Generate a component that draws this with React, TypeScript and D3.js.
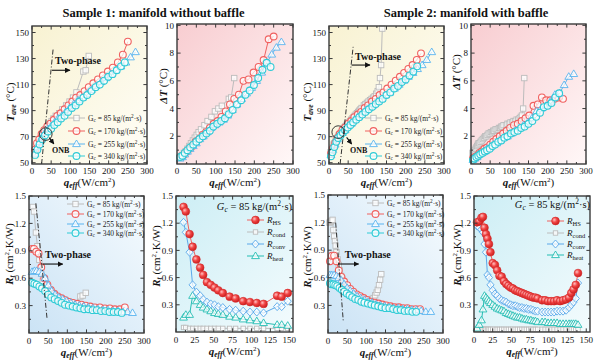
import React from "react";
import * as d3 from "d3";

// ---------------- DATA ----------------
// Sample 1 (manifold without baffle)
const s1q85 = [10, 13, 18, 22, 27, 32, 36, 41, 46, 51, 56, 62, 71, 79, 89, 98, 107, 116, 134, 140, 148];
const s1T85 = [58, 61, 65, 68, 71, 74, 76, 78, 80, 82, 84, 86, 88, 91, 94, 97, 100, 104, 120, 121, 132];
const s1dT85 = [0.5, 0.6, 0.8, 0.9, 1.1, 1.3, 1.5, 1.7, 1.9, 2.1, 2.3, 2.5, 2.8, 3.1, 3.4, 3.8, 4.0, 4.2, 4.7, 4.8, 6.2];
const s1R85 = [1.38, 1.33, 1.10, 0.95, 0.80, 0.65, 0.57, 0.50, 0.46, 0.43, 0.41, 0.39, 0.37, 0.35, 0.33, 0.32, 0.31, 0.31, 0.40, 0.41, 0.44];
const s1RHS = [1.38, 1.33, 1.08, 0.94, 0.80, 0.71, 0.63, 0.55, 0.52, 0.49, 0.46, 0.43, 0.39, 0.37, 0.34, 0.33, 0.32, 0.31, 0.40, 0.39, 0.43];
const s1Rcond = [0.05, 0.05, 0.04, 0.04, 0.04, 0.04, 0.04, 0.04, 0.04, 0.04, 0.04, 0.04, 0.04, 0.04, 0.04, 0.04, 0.04, 0.04, 0.04, 0.04, 0.04];
const s1Rconv = [1.21, 1.10, 0.88, 0.52, 0.44, 0.40, 0.36, 0.33, 0.31, 0.30, 0.28, 0.27, 0.25, 0.24, 0.23, 0.22, 0.22, 0.21, 0.28, 0.28, 0.34];
const s1Rheat = [0.16, 0.19, 0.19, 0.40, 0.34, 0.30, 0.27, 0.25, 0.23, 0.21, 0.20, 0.19, 0.17, 0.16, 0.14, 0.13, 0.12, 0.10, 0.08, 0.08, 0.07];

const s1q170 = [8, 13, 19, 25, 32, 40, 48, 57, 66, 75, 85, 95, 105, 115, 126, 137, 148, 160, 172, 185, 198, 211, 224, 237, 250];
const s1T170 = [60, 65, 68, 72, 75, 78, 80, 83, 86, 88, 91, 94, 97, 100, 102, 105, 108, 111, 114, 117, 120, 123, 127, 133, 143];
const s1dT170 = [0.5, 0.6, 0.7, 0.9, 1.1, 1.3, 1.6, 1.8, 2.1, 2.3, 2.6, 2.9, 3.1, 3.4, 3.8, 4.3, 4.7, 5.0, 6.0, 6.1, 6.6, 7.0, 7.5, 9.0, 9.2];
const s1R170 = [0.92, 0.92, 0.89, 0.87, 0.72, 0.60, 0.53, 0.47, 0.43, 0.40, 0.38, 0.36, 0.34, 0.33, 0.32, 0.31, 0.30, 0.29, 0.28, 0.28, 0.27, 0.27, 0.26, 0.26, 0.28];

const s1q255 = [8, 14, 20, 27, 34, 42, 50, 59, 68, 78, 88, 98, 109, 120, 131, 143, 155, 167, 180, 193, 206, 219, 232, 245, 257, 270];
const s1T255 = [57, 62, 66, 70, 73, 76, 78, 81, 84, 86, 89, 92, 95, 98, 100, 103, 106, 109, 112, 115, 118, 121, 124, 127, 131, 135];
const s1dT255 = [0.4, 0.5, 0.7, 0.9, 1.1, 1.3, 1.5, 1.8, 2.0, 2.3, 2.6, 2.8, 3.0, 3.2, 3.5, 3.9, 4.3, 4.7, 5.1, 5.5, 6.0, 6.6, 7.3, 7.9, 8.4, 8.8];
const s1R255 = [0.67, 0.68, 0.68, 0.67, 0.65, 0.60, 0.52, 0.46, 0.42, 0.39, 0.37, 0.35, 0.33, 0.31, 0.30, 0.29, 0.28, 0.27, 0.26, 0.25, 0.25, 0.24, 0.24, 0.23, 0.23, 0.22];

const s1q340 = [8, 14, 20, 27, 34, 42, 50, 58, 67, 76, 85, 94, 104, 114, 124, 134, 144, 155, 166, 177, 188, 199, 210, 221, 232, 242];
const s1T340 = [56, 60, 64, 68, 71, 74, 76, 79, 81, 84, 86, 89, 92, 94, 97, 100, 102, 105, 108, 110, 113, 116, 118, 121, 124, 127];
const s1dT340 = [0.5, 0.6, 0.8, 1.0, 1.2, 1.4, 1.6, 1.8, 2.0, 2.2, 2.4, 2.7, 2.9, 3.1, 3.3, 3.6, 3.9, 4.3, 4.6, 5.0, 5.3, 5.7, 6.2, 6.8, 7.3, 7.0];
const s1R340 = [0.55, 0.54, 0.53, 0.51, 0.49, 0.46, 0.42, 0.39, 0.37, 0.35, 0.33, 0.31, 0.30, 0.29, 0.28, 0.27, 0.26, 0.26, 0.25, 0.25, 0.24, 0.24, 0.23, 0.23, 0.23, 0.22];

// Sample 2 (manifold with baffle)
const s2q85 = [4, 7, 10, 12, 14, 16, 18, 20, 22, 25, 28, 31, 34, 37, 40, 43, 46, 49, 52, 55, 58, 61, 64, 67, 70, 73, 76, 79, 82, 85, 91, 95, 99, 103, 107, 111, 115, 119, 123, 127, 130, 133, 136, 139];
const s2T85 = [58, 60, 62, 64, 65, 66, 67, 68, 69, 71, 72, 73, 75, 76, 77, 78, 79, 80, 81, 82, 83, 84, 85, 86, 87, 88, 89, 90, 91, 92, 94, 95, 96, 97, 98, 99, 100, 101, 103, 105, 108, 115, 125, 153];
const s2dT85 = [0.8, 0.9, 1.0, 1.1, 1.2, 1.3, 1.4, 1.5, 1.5, 1.6, 1.7, 1.8, 1.9, 2.0, 2.0, 2.1, 2.2, 2.2, 2.3, 2.3, 2.4, 2.4, 2.5, 2.5, 2.5, 2.6, 2.6, 2.7, 2.7, 2.8, 2.8, 2.9, 2.9, 3.0, 3.0, 3.1, 3.1, 3.2, 3.2, 3.3, 3.4, 3.5, 4.0, 6.2];
const s2R85 = [1.20, 1.21, 1.22, 1.23, 1.12, 1.05, 1.00, 0.95, 0.88, 0.80, 0.74, 0.68, 0.62, 0.59, 0.55, 0.52, 0.50, 0.48, 0.46, 0.45, 0.44, 0.43, 0.42, 0.41, 0.40, 0.39, 0.38, 0.37, 0.37, 0.36, 0.35, 0.35, 0.35, 0.35, 0.35, 0.36, 0.37, 0.38, 0.41, 0.44, 0.47, 0.52, 0.58, 0.64];
const s2RHS = [1.21, 1.22, 1.26, 1.27, 1.15, 1.08, 1.03, 0.97, 0.88, 0.76, 0.74, 0.68, 0.62, 0.61, 0.56, 0.53, 0.51, 0.49, 0.48, 0.46, 0.45, 0.44, 0.43, 0.42, 0.41, 0.40, 0.39, 0.38, 0.38, 0.37, 0.35, 0.35, 0.34, 0.34, 0.34, 0.35, 0.34, 0.35, 0.36, 0.38, 0.43, 0.47, 0.52, 0.65];
const s2Rcond = [0.03, 0.03, 0.03, 0.03, 0.03, 0.03, 0.03, 0.03, 0.03, 0.03, 0.03, 0.03, 0.03, 0.03, 0.03, 0.03, 0.03, 0.03, 0.03, 0.03, 0.03, 0.03, 0.03, 0.03, 0.03, 0.03, 0.03, 0.03, 0.03, 0.03, 0.03, 0.03, 0.03, 0.03, 0.03, 0.03, 0.03, 0.03, 0.03, 0.03, 0.03, 0.03, 0.03, 0.03];
const s2Rconv = [1.17, 1.15, 1.13, 1.10, 0.97, 0.88, 0.63, 0.60, 0.52, 0.46, 0.42, 0.40, 0.37, 0.35, 0.34, 0.33, 0.31, 0.30, 0.29, 0.29, 0.28, 0.27, 0.27, 0.26, 0.26, 0.25, 0.25, 0.24, 0.23, 0.23, 0.22, 0.22, 0.22, 0.22, 0.22, 0.23, 0.23, 0.23, 0.24, 0.27, 0.30, 0.33, 0.37, 0.54];
const s2Rheat = [0.04, 0.08, 0.13, 0.25, 0.40, 0.38, 0.36, 0.34, 0.32, 0.30, 0.28, 0.26, 0.25, 0.24, 0.23, 0.21, 0.20, 0.19, 0.18, 0.17, 0.16, 0.16, 0.15, 0.14, 0.14, 0.13, 0.13, 0.12, 0.12, 0.11, 0.11, 0.11, 0.10, 0.10, 0.10, 0.10, 0.09, 0.09, 0.09, 0.09, 0.09, 0.09, 0.09, 0.08];

const s2q170 = [5, 10, 16, 22, 28, 35, 42, 50, 58, 66, 75, 84, 93, 102, 112, 122, 132, 142, 152, 163, 174, 185, 196, 207, 218, 229, 240];
const s2T170 = [57, 61, 65, 69, 72, 75, 77, 80, 82, 85, 87, 89, 92, 94, 97, 99, 102, 104, 107, 110, 113, 116, 119, 122, 125, 129, 134];
const s2dT170 = [0.4, 0.5, 0.6, 0.8, 0.9, 1.1, 1.2, 1.4, 1.6, 1.8, 2.0, 2.2, 2.4, 2.6, 2.8, 2.9, 3.1, 3.3, 3.5, 4.2, 4.3, 4.8, 4.6, 4.6, 4.7, 4.8, 4.7];
const s2R170 = [0.78, 0.84, 0.84, 0.78, 0.68, 0.61, 0.56, 0.52, 0.48, 0.45, 0.42, 0.40, 0.38, 0.36, 0.34, 0.33, 0.32, 0.31, 0.30, 0.29, 0.28, 0.28, 0.27, 0.27, 0.26, 0.26, 0.26];

const s2q255 = [5, 10, 16, 22, 28, 35, 42, 50, 58, 67, 76, 85, 95, 105, 115, 126, 137, 148, 159, 171, 183, 195, 207, 219, 231, 243, 255, 268];
const s2T255 = [56, 60, 64, 68, 71, 73, 75, 78, 80, 83, 85, 87, 90, 92, 94, 97, 99, 102, 104, 107, 110, 113, 116, 119, 122, 125, 129, 135];
const s2dT255 = [0.3, 0.4, 0.5, 0.7, 0.8, 0.9, 1.1, 1.2, 1.4, 1.5, 1.7, 1.9, 2.0, 2.2, 2.4, 2.6, 2.8, 3.0, 3.3, 3.8, 4.0, 4.2, 4.5, 5.0, 5.1, 5.7, 6.3, 6.5];
const s2R255 = [0.63, 0.63, 0.63, 0.62, 0.60, 0.57, 0.53, 0.49, 0.46, 0.43, 0.40, 0.38, 0.36, 0.34, 0.33, 0.31, 0.30, 0.29, 0.28, 0.27, 0.27, 0.26, 0.26, 0.25, 0.25, 0.24, 0.23, 0.23];

const s2q340 = [5, 9, 14, 19, 24, 30, 36, 42, 49, 56, 63, 71, 79, 87, 95, 104, 113, 122, 131, 140, 150, 160, 170, 180, 190, 200, 210, 220, 230];
const s2T340 = [55, 58, 62, 66, 69, 71, 73, 75, 77, 79, 81, 83, 85, 87, 89, 91, 93, 95, 97, 99, 102, 104, 107, 109, 112, 114, 117, 120, 124];
const s2dT340 = [0.3, 0.4, 0.5, 0.6, 0.7, 0.8, 0.9, 1.0, 1.1, 1.3, 1.4, 1.6, 1.7, 1.9, 2.0, 2.2, 2.3, 2.4, 2.6, 2.7, 2.9, 3.1, 3.4, 3.7, 4.1, 4.2, 4.4, 4.8, 5.1];
const s2R340 = [0.54, 0.53, 0.53, 0.52, 0.51, 0.49, 0.47, 0.45, 0.43, 0.41, 0.39, 0.37, 0.36, 0.34, 0.33, 0.32, 0.31, 0.30, 0.29, 0.28, 0.27, 0.27, 0.26, 0.25, 0.25, 0.24, 0.24, 0.23, 0.23];

// tick values
const xTicks300 = [0, 50, 100, 150, 200, 250, 300];
const xTicks150 = [0, 25, 50, 75, 100, 125, 150];
const yTicksT = [50, 70, 90, 110, 130, 150];
const yTicksDT = [2, 4, 6, 8, 10];
const yTicksR = [0.3, 0.6, 0.9, 1.2, 1.5];
const flowLabels = ["85", "170", "255", "340"];

// ---------------- STYLE ----------------
const FONT = "'Liberation Serif', 'Times New Roman', serif";
const C_GRAY = "#bcbcbc";
const C_RED = "#f0605f";
const C_BLUE = "#5ab4ef";
const C_CYAN = "#2fcbd6";
const C_CONV = "#5aa8ea";
const C_HEAT = "#25bdb3";
const FRAME = "#3a3a3a";

type Box = { x: number; y: number; w: number; h: number };
type Series = { q: number[]; v: number[]; color: string; shape: string };

function Marker({ shape, x, y, color }: { shape: string; x: number; y: number; color: string }) {
  const sw = 0.9;
  if (shape === "square")
    return <rect x={x - 2.7} y={y - 2.7} width={5.4} height={5.4} fill="#fff" fillOpacity={0.75} stroke={color} strokeWidth={sw} />;
  if (shape === "smallsquare")
    return <rect x={x - 2.2} y={y - 2.2} width={4.4} height={4.4} fill="#fff" fillOpacity={0.8} stroke={color} strokeWidth={sw} />;
  if (shape === "circle")
    return <circle cx={x} cy={y} r={3.4} fill="#fff" fillOpacity={0.7} stroke={color} strokeWidth={sw + 0.2} />;
  if (shape === "triangle")
    return (
      <path d={`M${x},${y - 4}L${x + 3.9},${y + 2.6}L${x - 3.9},${y + 2.6}Z`} fill="#fff" fillOpacity={0.7} stroke={color} strokeWidth={sw} />
    );
  if (shape === "diamond")
    return (
      <path d={`M${x},${y - 4}L${x + 3.6},${y}L${x},${y + 4}L${x - 3.6},${y}Z`} fill="#fff" fillOpacity={0.7} stroke={color} strokeWidth={sw} />
    );
  if (shape === "ball")
    return <circle cx={x} cy={y} r={3.9} fill="url(#ball)" stroke="#d42a2a" strokeWidth={0.6} />;
  return null;
}

function minorTicks(ticks: number[], dom: number[]) {
  const step = ticks[1] - ticks[0];
  const out: number[] = [];
  for (let v = ticks[0] - step / 2; v <= dom[1] + 1e-9; v += step) {
    if (v >= dom[0] - 1e-9) out.push(v);
  }
  return out;
}

function Panel(props: {
  box: Box;
  xDom: number[];
  yDom: number[];
  xTicks: number[];
  yTicks: number[];
  yFmt: (v: number) => string;
  bg: string;
  series: Series[];
  tickDy: number;
  titleDy: number;
  extra?: (x: any, y: any) => React.ReactNode;
}) {
  const { box, xDom, yDom, xTicks, yTicks, yFmt, bg, series, tickDy, titleDy, extra } = props;
  const x = d3.scaleLinear().domain(xDom).range([box.x, box.x + box.w]);
  const y = d3.scaleLinear().domain(yDom).range([box.y + box.h, box.y]);
  const L = 3.6;
  const l = 2;
  const x0 = box.x, x1 = box.x + box.w, y0 = box.y, y1 = box.y + box.h;
  const xMin = minorTicks(xTicks, xDom);
  const yMin = minorTicks(yTicks, yDom);
  const ticks: React.ReactNode[] = [];
  xTicks.forEach((t, i) => {
    const px = x(t);
    ticks.push(<line key={"xb" + i} x1={px} x2={px} y1={y1} y2={y1 - L} />);
    ticks.push(<line key={"xt" + i} x1={px} x2={px} y1={y0} y2={y0 + L} />);
  });
  xMin.forEach((t, i) => {
    const px = x(t);
    ticks.push(<line key={"xbm" + i} x1={px} x2={px} y1={y1} y2={y1 - l} />);
    ticks.push(<line key={"xtm" + i} x1={px} x2={px} y1={y0} y2={y0 + l} />);
  });
  yTicks.forEach((t, i) => {
    const py = y(t);
    ticks.push(<line key={"yl" + i} x1={x0} x2={x0 + L} y1={py} y2={py} />);
    ticks.push(<line key={"yr" + i} x1={x1} x2={x1 - L} y1={py} y2={py} />);
  });
  yMin.forEach((t, i) => {
    const py = y(t);
    ticks.push(<line key={"ylm" + i} x1={x0} x2={x0 + l} y1={py} y2={py} />);
    ticks.push(<line key={"yrm" + i} x1={x1} x2={x1 - l} y1={py} y2={py} />);
  });
  const line = d3.line<number>();
  return (
    <g>
      <rect x={x0} y={y0} width={box.w} height={box.h} fill={`url(#${bg})`} />
      {series.map((s, si) => {
        const pts: [number, number][] = s.q.map((q, i) => [x(q), y(s.v[i])]);
        return (
          <g key={si}>
            <path d={line(pts) || ""} fill="none" stroke={s.color} strokeWidth={1} />
            {pts.map((p, i) => (
              <Marker key={i} shape={s.shape} x={p[0]} y={p[1]} color={s.color} />
            ))}
          </g>
        );
      })}
      {extra ? extra(x, y) : null}
      <g stroke={FRAME} strokeWidth={1}>{ticks}</g>
      <rect x={x0} y={y0} width={box.w} height={box.h} fill="none" stroke={FRAME} strokeWidth={1.4} />
      <g fontFamily={FONT} fontSize={9} fill="#111">
        {xTicks.map((t, i) => (
          <text key={i} x={x(t)} y={y1 + tickDy} textAnchor="middle">
            {t}
          </text>
        ))}
        {yTicks.map((t, i) => (
          <text key={i} x={x0 - 3} y={y(t) + 3.2} textAnchor="end">
            {yFmt(t)}
          </text>
        ))}
      </g>
      <text x={(x0 + x1) / 2} y={y1 + titleDy} textAnchor="middle" fontFamily={FONT} fontSize={11} fill="#111">
        <tspan fontWeight="bold" fontStyle="italic">q</tspan>
        <tspan fontWeight="bold" fontStyle="italic" fontSize={7.5} dy={2}>eff</tspan>
        <tspan dy={-2}>(W/cm</tspan>
        <tspan fontSize={7} dy={-4}>2</tspan>
        <tspan dy={4}>)</tspan>
      </text>
    </g>
  );
}

function YLabel({ x, y, kind }: { x: number; y: number; kind: string }) {
  let content: React.ReactNode = null;
  if (kind === "T")
    content = (
      <>
        <tspan fontWeight="bold" fontStyle="italic">T</tspan>
        <tspan fontWeight="bold" fontStyle="italic" fontSize={7.5} dy={2}>ave</tspan>
        <tspan dy={-2}> (°C)</tspan>
      </>
    );
  else if (kind === "dT")
    content = (
      <>
        <tspan fontWeight="bold" fontStyle="italic">ΔT</tspan>
        <tspan> (°C)</tspan>
      </>
    );
  else
    content = (
      <>
        <tspan fontWeight="bold" fontStyle="italic">R</tspan>
        <tspan fontWeight="bold" fontStyle="italic" fontSize={7.5} dy={2}>t</tspan>
        <tspan dy={-2}> (cm</tspan>
        <tspan fontSize={7} dy={-4}>2</tspan>
        <tspan dy={4}>·K/W)</tspan>
      </>
    );
  return (
    <text transform={`translate(${x},${y}) rotate(-90)`} textAnchor="middle" fontFamily={FONT} fontSize={11} fill="#111">
      {content}
    </text>
  );
}

function FlowLegend({ x, ys, fs }: { x: number; ys: number[]; fs: number }) {
  const shapes = ["square", "circle", "triangle", "circle"];
  const colors = [C_GRAY, C_RED, C_BLUE, C_CYAN];
  return (
    <g>
      {flowLabels.map((lab, i) => (
        <g key={i}>
          <line x1={x} x2={x + 17} y1={ys[i]} y2={ys[i]} stroke={colors[i]} strokeWidth={1} />
          <Marker shape={shapes[i]} x={x + 8.5} y={ys[i]} color={colors[i]} />
          <text x={x + 20} y={ys[i] + fs * 0.35} fontFamily={FONT} fontSize={fs} fill="#222">
            <tspan>G</tspan>
            <tspan fontSize={fs * 0.7} dy={1.5}>c</tspan>
            <tspan dy={-1.5}>{` = ${lab} kg/(m`}</tspan>
            <tspan fontSize={fs * 0.7} dy={-3}>2</tspan>
            <tspan dy={3}>·s)</tspan>
          </text>
        </g>
      ))}
    </g>
  );
}

function ResLegend({ rightX, titleY, x, ys }: { rightX: number; titleY: number; x: number; ys: number[] }) {
  const shapes = ["ball", "smallsquare", "diamond", "triangle"];
  const colors = [C_RED, C_GRAY, C_CONV, C_HEAT];
  const subs = ["HS", "cond", "conv", "heat"];
  return (
    <g fontFamily={FONT} fill="#111">
      <text x={rightX} y={titleY} textAnchor="end" fontSize={10.5}>
        <tspan fontStyle="italic">G</tspan>
        <tspan fontStyle="italic" fontSize={7.5} dy={2}>c</tspan>
        <tspan dy={-2}> = 85 kg/(m</tspan>
        <tspan fontSize={7.5} dy={-4}>2</tspan>
        <tspan dy={4}>·s)</tspan>
      </text>
      {subs.map((s, i) => (
        <g key={i}>
          <line x1={x} x2={x + 17} y1={ys[i]} y2={ys[i]} stroke={colors[i]} strokeWidth={1} />
          <Marker shape={shapes[i]} x={x + 8.5} y={ys[i]} color={colors[i]} />
          <text x={x + 20} y={ys[i] + 3} fontSize={9}>
            <tspan fontStyle="italic">R</tspan>
            <tspan fontSize={6.5} dy={2}>{s}</tspan>
          </text>
        </g>
      ))}
    </g>
  );
}

function DashDot({ x1, y1, x2, y2 }: { x1: number; y1: number; x2: number; y2: number }) {
  return <line x1={x1} y1={y1} x2={x2} y2={y2} stroke="#333" strokeWidth={1} strokeDasharray="5,2,1,2" />;
}

function Arrow({ x1, y1, x2, y2 }: { x1: number; y1: number; x2: number; y2: number }) {
  return <line x1={x1} y1={y1} x2={x2} y2={y2} stroke="#111" strokeWidth={1.1} markerEnd="url(#arrowHead)" />;
}

function TwoPhase({ x, y }: { x: number; y: number }) {
  return (
    <text x={x} y={y} fontFamily={FONT} fontSize={10} fontWeight="bold" fill="#111">
      Two-phase
    </text>
  );
}

function OnbNote({ cx, cy, tx, ty, ax1, ay1, ax2, ay2 }: any) {
  return (
    <g>
      <circle cx={cx} cy={cy} r={6.3} fill="none" stroke="#222" strokeWidth={0.9} />
      <Arrow x1={ax1} y1={ay1} x2={ax2} y2={ay2} />
      <text x={tx} y={ty} fontFamily={FONT} fontSize={8} fontWeight="bold" fill="#111">
        ONB
      </text>
    </g>
  );
}

const BOX_A: Box = { x: 32, y: 26, w: 115, h: 138 };
const BOX_B: Box = { x: 177, y: 24, w: 116, h: 140 };
const BOX_C: Box = { x: 329, y: 26, w: 115, h: 138 };
const BOX_D: Box = { x: 471, y: 24, w: 115, h: 140 };
const BOX_E: Box = { x: 29, y: 196, w: 115, h: 137 };
const BOX_F: Box = { x: 176, y: 196, w: 117, h: 136 };
const BOX_G: Box = { x: 328, y: 195, w: 115, h: 138 };
const BOX_H: Box = { x: 474, y: 196, w: 116, h: 136 };

const fmtInt = (v: number) => String(v);
const fmt1 = (v: number) => v.toFixed(1);

export default function App() {
  const s1T: Series[] = [
    { q: s1q85, v: s1T85, color: C_GRAY, shape: "square" },
    { q: s1q170, v: s1T170, color: C_RED, shape: "circle" },
    { q: s1q255, v: s1T255, color: C_BLUE, shape: "triangle" },
    { q: s1q340, v: s1T340, color: C_CYAN, shape: "circle" },
  ];
  const s1D: Series[] = [
    { q: s1q85, v: s1dT85, color: C_GRAY, shape: "square" },
    { q: s1q170, v: s1dT170, color: C_RED, shape: "circle" },
    { q: s1q255, v: s1dT255, color: C_BLUE, shape: "triangle" },
    { q: s1q340, v: s1dT340, color: C_CYAN, shape: "circle" },
  ];
  const s1R: Series[] = [
    { q: s1q85, v: s1R85, color: C_GRAY, shape: "square" },
    { q: s1q170, v: s1R170, color: C_RED, shape: "circle" },
    { q: s1q255, v: s1R255, color: C_BLUE, shape: "triangle" },
    { q: s1q340, v: s1R340, color: C_CYAN, shape: "circle" },
  ];
  const s1Res: Series[] = [
    { q: s1q85, v: s1Rcond, color: C_GRAY, shape: "smallsquare" },
    { q: s1q85, v: s1Rheat, color: C_HEAT, shape: "triangle" },
    { q: s1q85, v: s1Rconv, color: C_CONV, shape: "diamond" },
    { q: s1q85, v: s1RHS, color: C_RED, shape: "ball" },
  ];
  const s2T: Series[] = [
    { q: s2q85, v: s2T85, color: C_GRAY, shape: "square" },
    { q: s2q170, v: s2T170, color: C_RED, shape: "circle" },
    { q: s2q255, v: s2T255, color: C_BLUE, shape: "triangle" },
    { q: s2q340, v: s2T340, color: C_CYAN, shape: "circle" },
  ];
  const s2D: Series[] = [
    { q: s2q85, v: s2dT85, color: C_GRAY, shape: "square" },
    { q: s2q170, v: s2dT170, color: C_RED, shape: "circle" },
    { q: s2q255, v: s2dT255, color: C_BLUE, shape: "triangle" },
    { q: s2q340, v: s2dT340, color: C_CYAN, shape: "circle" },
  ];
  const s2R: Series[] = [
    { q: s2q85, v: s2R85, color: C_GRAY, shape: "square" },
    { q: s2q170, v: s2R170, color: C_RED, shape: "circle" },
    { q: s2q255, v: s2R255, color: C_BLUE, shape: "triangle" },
    { q: s2q340, v: s2R340, color: C_CYAN, shape: "circle" },
  ];
  const s2Res: Series[] = [
    { q: s2q85, v: s2Rcond, color: C_GRAY, shape: "smallsquare" },
    { q: s2q85, v: s2Rheat, color: C_HEAT, shape: "triangle" },
    { q: s2q85, v: s2Rconv, color: C_CONV, shape: "diamond" },
    { q: s2q85, v: s2RHS, color: C_RED, shape: "ball" },
  ];

  return (
    <svg width={600} height={362} style={{ position: "absolute", left: 0, top: 0, display: "block", background: "#fff" }}>
      <defs>
        <linearGradient id="bgY" x1="0" y1="0" x2="1" y2="1">
          <stop offset="0" stopColor="#f8f2d2" />
          <stop offset="1" stopColor="#fffef8" />
        </linearGradient>
        <linearGradient id="bgP" x1="0" y1="0" x2="1" y2="1">
          <stop offset="0" stopColor="#f8cdd1" />
          <stop offset="1" stopColor="#fff7f7" />
        </linearGradient>
        <linearGradient id="bgB" x1="0" y1="1" x2="1" y2="0">
          <stop offset="0" stopColor="#cbe3f5" />
          <stop offset="1" stopColor="#f6fbfe" />
        </linearGradient>
        <linearGradient id="bgC" x1="0" y1="0" x2="1" y2="1">
          <stop offset="0" stopColor="#cdeef5" />
          <stop offset="1" stopColor="#f3fbfd" />
        </linearGradient>
        <radialGradient id="ball" cx="0.35" cy="0.35" r="0.7">
          <stop offset="0" stopColor="#ffc0c0" />
          <stop offset="0.45" stopColor="#f24646" />
          <stop offset="1" stopColor="#c81c1c" />
        </radialGradient>
        <marker id="arrowHead" viewBox="0 0 10 10" refX="9" refY="5" markerWidth="5" markerHeight="5" orient="auto">
          <path d="M0,0L10,5L0,10Z" fill="#111" />
        </marker>
      </defs>

      <text x={153.5} y={17} textAnchor="middle" fontFamily={FONT} fontSize={12.5} fontWeight="bold" fill="#111">
        Sample 1: manifold without baffle
      </text>
      <text x={466} y={17} textAnchor="middle" fontFamily={FONT} fontSize={12.5} fontWeight="bold" fill="#111">
        Sample 2: manifold with baffle
      </text>

      {/* A */}
      <Panel
        box={BOX_A} xDom={[0, 300]} yDom={[49, 155]} xTicks={xTicks300} yTicks={yTicksT} yFmt={fmtInt}
        bg="bgY" series={s1T} tickDy={10} titleDy={22}
        extra={(x, y) => (
          <g>
            <DashDot x1={x(25)} y1={y(49)} x2={x(55)} y2={y(137)} />
            <TwoPhase x={x(60)} y={y(126)} />
            <Arrow x1={x(52)} y1={y(121)} x2={x(99)} y2={y(121)} />
            <OnbNote cx={x(36)} cy={y(72)} tx={x(52)} ty={y(57.5)} ax1={x(45)} ay1={y(69.2)} ax2={x(57)} ay2={y(64.5)} />
          </g>
        )}
      />
      <FlowLegend x={68} ys={[118, 131, 144, 156]} fs={7.5} />
      <YLabel x={14} y={102} kind="T" />

      {/* B */}
      <Panel box={BOX_B} xDom={[0, 300]} yDom={[0, 10.1]} xTicks={xTicks300} yTicks={yTicksDT} yFmt={fmtInt}
        bg="bgP" series={s1D} tickDy={10} titleDy={22} />
      <YLabel x={167} y={86} kind="dT" />

      {/* C */}
      <Panel
        box={BOX_C} xDom={[0, 300]} yDom={[49, 155]} xTicks={xTicks300} yTicks={yTicksT} yFmt={fmtInt}
        bg="bgY" series={s2T} tickDy={10} titleDy={22}
        extra={(x, y) => (
          <g>
            <DashDot x1={x(29)} y1={y(49)} x2={x(63)} y2={y(139)} />
            <TwoPhase x={x(68)} y={y(129)} />
            <Arrow x1={x(59)} y1={y(125)} x2={x(107)} y2={y(125)} />
            <OnbNote cx={x(24)} cy={y(73.5)} tx={x(55)} ty={y(57.5)} ax1={x(46)} ay1={y(69.5)} ax2={x(59)} ay2={y(64.4)} />
          </g>
        )}
      />
      <FlowLegend x={365} ys={[118, 131, 144, 156]} fs={7.5} />
      <YLabel x={311} y={102} kind="T" />

      {/* D */}
      <Panel box={BOX_D} xDom={[0, 300]} yDom={[0, 10.1]} xTicks={xTicks300} yTicks={yTicksDT} yFmt={fmtInt}
        bg="bgP" series={s2D} tickDy={10} titleDy={22} />
      <YLabel x={460} y={72} kind="dT" />

      {/* E */}
      <Panel
        box={BOX_E} xDom={[0, 300]} yDom={[0, 1.5]} xTicks={xTicks300} yTicks={yTicksR} yFmt={fmt1}
        bg="bgB" series={s1R} tickDy={11} titleDy={23}
        extra={(x, y) => (
          <g>
            <DashDot x1={x(18)} y1={y(1.42)} x2={x(47)} y2={y(0.16)} />
            <TwoPhase x={x(42)} y={y(0.82)} />
            <Arrow x1={x(36)} y1={y(0.755)} x2={x(88)} y2={y(0.755)} />
          </g>
        )}
      />
      <FlowLegend x={67} ys={[204, 214, 224, 233]} fs={7.5} />
      <YLabel x={13} y={254} kind="R" />

      {/* F */}
      <Panel box={BOX_F} xDom={[0, 155]} yDom={[0, 1.5]} xTicks={xTicks150} yTicks={yTicksR} yFmt={fmt1}
        bg="bgC" series={s1Res} tickDy={11} titleDy={23} />
      <ResLegend rightX={292} titleY={210} x={247} ys={[220, 232, 244, 256]} />
      <YLabel x={160} y={256} kind="R" />

      {/* G */}
      <Panel
        box={BOX_G} xDom={[0, 300]} yDom={[0, 1.5]} xTicks={xTicks300} yTicks={yTicksR} yFmt={fmt1}
        bg="bgB" series={s2R} tickDy={11} titleDy={23}
        extra={(x, y) => (
          <g>
            <DashDot x1={x(20)} y1={y(1.2)} x2={x(40)} y2={y(0.12)} />
            <TwoPhase x={x(44)} y={y(0.815)} />
            <Arrow x1={x(26)} y1={y(0.75)} x2={x(80)} y2={y(0.75)} />
          </g>
        )}
      />
      <FlowLegend x={367} ys={[203, 214, 224, 233]} fs={7.5} />
      <YLabel x={311} y={257} kind="R" />

      {/* H */}
      <Panel box={BOX_H} xDom={[0, 155]} yDom={[0, 1.5]} xTicks={xTicks150} yTicks={yTicksR} yFmt={fmt1}
        bg="bgC" series={s2Res} tickDy={11} titleDy={23} />
      <ResLegend rightX={590} titleY={208} x={547} ys={[221, 233, 244, 255]} />
      <YLabel x={461} y={255} kind="R" />
    </svg>
  );
}
